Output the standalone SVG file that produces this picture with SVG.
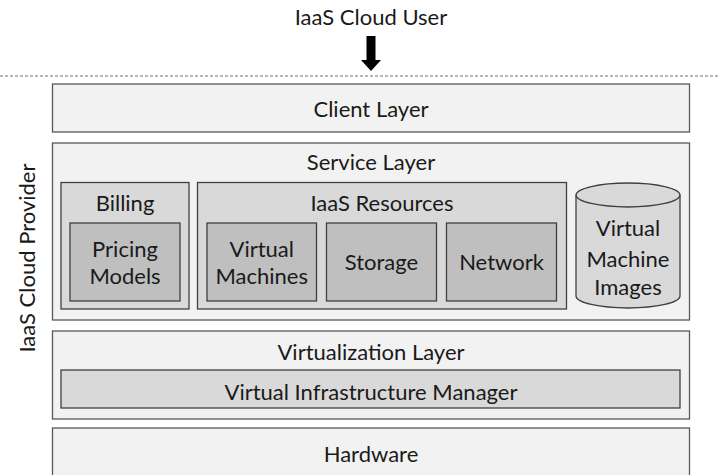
<svg xmlns="http://www.w3.org/2000/svg" width="720" height="475" viewBox="0 0 720 475">
  <style>
    text { font-family: Lato, "Open Sans", "Liberation Sans", sans-serif; font-size: 22px; fill: #1a1a1a; text-anchor: middle; }
    .l1 { fill: #f2f2f2; stroke: #595959; stroke-width: 1.3; }
    .l2 { fill: #d9d9d9; stroke: #404040; stroke-width: 1.3; }
    .l3 { fill: #bfbfbf; stroke: #404040; stroke-width: 1.3; }
  </style>
  <rect width="720" height="475" fill="#ffffff"/>

  <g id="cloud-user">
    <text x="371" y="25">IaaS Cloud User</text>
  </g>

  <g id="connectors">
    <path d="M366.5,36 H375.5 V60 H381 L371,71 L361,60 H366.5 Z" fill="#000000"/>
    <line x1="0" y1="76" x2="720" y2="76" stroke="#6f6f6f" stroke-width="1" stroke-dasharray="3,2"/>
  </g>

  <g id="provider-label">
    <text x="35" y="258" transform="rotate(-90 35 258)">IaaS Cloud Provider</text>
  </g>

  <g id="client-layer">
    <rect class="l1" x="52.5" y="84" width="637" height="48"/>
    <text x="371" y="117">Client Layer</text>
  </g>

  <g id="service-layer">
    <rect class="l1" x="52.5" y="143" width="637" height="177"/>
    <text x="371" y="170">Service Layer</text>
  </g>

  <g id="billing">
    <rect class="l2" x="61" y="182.5" width="128" height="126.5"/>
    <text x="125" y="210.5">Billing</text>
  </g>

  <g id="pricing-models">
    <rect class="l3" x="70" y="223" width="110" height="78"/>
    <text x="125" y="257">Pricing</text>
    <text x="125" y="284">Models</text>
  </g>

  <g id="iaas-resources">
    <rect class="l2" x="197.5" y="182.5" width="369" height="126.5"/>
    <text x="382" y="210.5">IaaS Resources</text>
  </g>

  <g id="virtual-machines">
    <rect class="l3" x="207" y="223" width="109.5" height="78"/>
    <text x="261.75" y="257">Virtual</text>
    <text x="261.75" y="284">Machines</text>
  </g>

  <g id="storage">
    <rect class="l3" x="326.5" y="223" width="110" height="78"/>
    <text x="381.5" y="270">Storage</text>
  </g>

  <g id="network">
    <rect class="l3" x="446.5" y="223" width="110" height="78"/>
    <text x="501.5" y="270">Network</text>
  </g>

  <g id="vm-images">
    <path class="l2" d="M576,195 A52,12 0 0 1 680,195 V296 A52,12 0 0 1 576,296 Z"/>
    <path d="M576,195 A52,12 0 0 0 680,195" fill="none" stroke="#404040" stroke-width="1.3"/>
    <text x="628" y="236">Virtual</text>
    <text x="628" y="267">Machine</text>
    <text x="628" y="295">Images</text>
  </g>

  <g id="virtualization-layer">
    <rect class="l1" x="52.5" y="331" width="637" height="88"/>
    <text x="371" y="360">Virtualization Layer</text>
  </g>

  <g id="vim">
    <rect class="l2" x="61" y="370" width="619" height="38"/>
    <text x="371" y="399.5">Virtual Infrastructure Manager</text>
  </g>

  <g id="hardware">
    <rect class="l1" x="52.5" y="428" width="637" height="60"/>
    <text x="371" y="462">Hardware</text>
  </g>
</svg>
